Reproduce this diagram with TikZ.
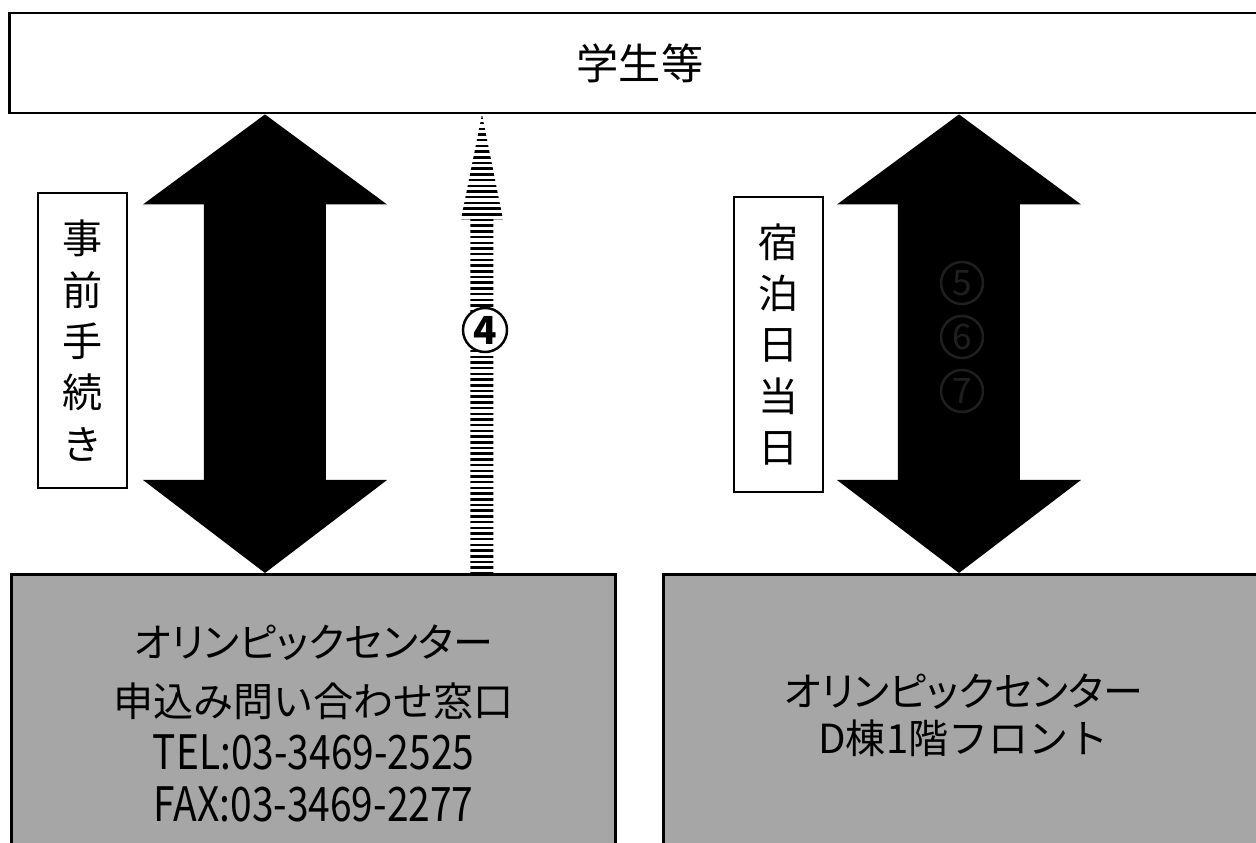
\documentclass[tikz,border=0pt]{standalone}
\usepackage{fontspec}
\setmainfont{Noto Sans CJK JP}
\newfontfamily\propkana[RawFeature=+palt]{Noto Sans CJK JP}
\newfontfamily\telfont[FakeStretch=0.82]{Noto Sans CJK JP}
\usepackage{tikz}
\usetikzlibrary{positioning,calc}

\tikzset{
  frame/.style={draw, line width=.8pt},
  labelbox/.style={frame, fill=white, minimum width=.89cm, minimum height=2.95cm,
    inner sep=0pt, align=center, font=\fontsize{11.4pt}{14.6pt}\selectfont},
  deskbox/.style={frame, fill=black!35, anchor=north west, inner sep=0pt, align=center},
  numring/.style={circle, draw, line width=.7pt, inner sep=0pt, minimum size=.42cm},
}
% two-headed block arrow between two points (top tip, bottom tip)
\newcommand{\bothways}[2]{%
  \fill[black] (#1) -- ($(#1)+(122,90)$) -- ($(#1)+(61,90)$) -- ($(#2)+(61,-93)$)
    -- ($(#2)+(122,-93)$) -- (#2) -- ($(#2)+(-122,-93)$) -- ($(#2)+(-61,-93)$)
    -- ($(#1)+(-61,90)$) -- ($(#1)+(-122,90)$) -- cycle;}

\begin{document}
\begin{tikzpicture}[x=.01cm, y=-.01cm]
\useasboundingbox (0,0) rectangle (1256,843);

\node[frame, fill=white, minimum width=12.6cm, minimum height=1cm,
  font=\fontsize{12pt}{12pt}\selectfont] (students) at (640,63) {学生等};

\node[deskbox, minimum width=6.04cm, minimum height=2.98cm,
  font=\fontsize{11.4pt}{14.8pt}\selectfont] (desk) at (10,573)
  {{\propkana オリンピックセンター}\\[2pt] 申込み問い合わせ窓口\\
   {\telfont\fontsize{13.5pt}{14.8pt}\selectfont TEL:03-3469-2525}\\
   {\telfont\fontsize{13.5pt}{14.8pt}\selectfont FAX:03-3469-2277}};
\node[deskbox, minimum width=6.0cm, minimum height=2.82cm,
  font=\fontsize{11.4pt}{13.4pt}\selectfont] (front) at (662,573)
  {{\propkana オリンピックセンター}\\ D棟1階フロント};

\node[labelbox] (prep) at (82.5,340.5) {事\\前\\手\\続\\き};
\node[labelbox] (stay) at (778.5,344.5) {宿\\泊\\日\\当\\日};

%%% BLOCK ARROWS
\coordinate (lx) at (265,0);
\coordinate (rx) at (959,0);
\coordinate (dx) at (482,0);
\bothways{lx |- students.south}{lx |- desk.north}
\bothways{rx |- students.south}{rx |- front.north}

%%% STRIPED ARROW
\coordinate (dtop) at (dx |- students.south);
\coordinate (dbot) at (dx |- desk.north);
\begin{scope}
\clip (dtop) -- ($(dtop)+(21,105)$) -- ($(dtop)+(11.5,105)$) -- ($(dbot)+(11.5,0)$)
  -- ($(dbot)+(-11.5,0)$) -- ($(dtop)+(-11.5,105)$) -- ($(dtop)+(-21,105)$) -- cycle;
\foreach \k in {0,...,80}
  \draw[line width=.7pt] ($(dtop)+(-30,3+5.7*\k)$) -- ++(60,0);
\end{scope}
\node[numring, fill=white, minimum size=.44cm, font=\fontsize{11pt}{11pt}\bfseries\selectfont]
  (four) at (485,330) {4};

%%% faint numbers on right arrow
\foreach \n/\y in {5/283,6/337,7/391}
  \node[numring, draw=black!88, text=black!88, font=\fontsize{10pt}{10pt}\selectfont]
    (ring\n) at (962,\y) {\n};

\end{tikzpicture}
\end{document}
